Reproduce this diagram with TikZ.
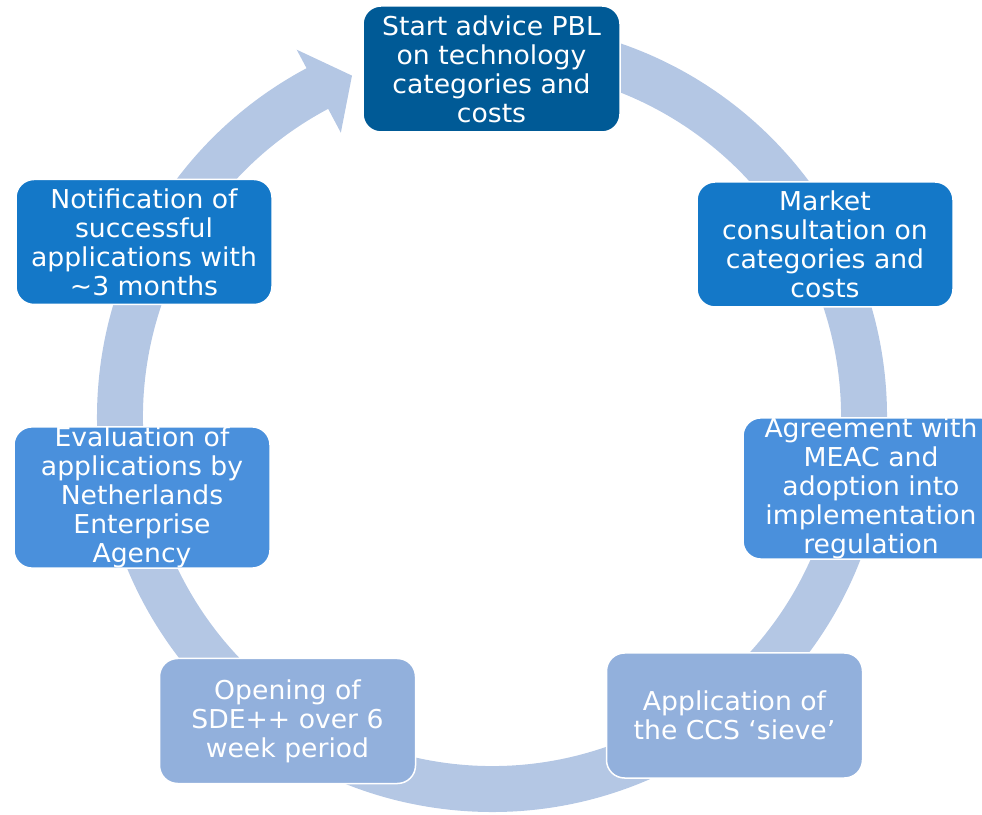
\documentclass[tikz,border=0pt]{standalone}
\usepackage{fontspec}
\setmainfont{DejaVu Sans}[FakeStretch=1.025]
\usetikzlibrary{calc}
\definecolor{ringc}{RGB}{180,199,228}
\definecolor{cA}{RGB}{0,90,150}
\definecolor{cB}{RGB}{20,120,200}
\definecolor{cC}{RGB}{74,144,220}
\definecolor{cD}{RGB}{146,176,220}
\begin{document}
\begin{tikzpicture}[x=1pt,y=1pt,
  box/.style={rounded corners=18pt, draw=white, line width=1.5pt,
    minimum width=256pt, minimum height=125pt, text=white, align=center,
    font=\fontsize{26}{29}\selectfont, inner sep=0pt}]
\useasboundingbox (0,0) rectangle (982,814);
\clip (0,0) rectangle (982,814);
\coordinate (c) at (492,397);
\fill[ringc] ($(c)+(85:395)$) arc[start angle=85,end angle=-242,radius=395]
  -- ($(c)+(-242:416)$) -- ($(c)+(-247.7:369)$) -- ($(c)+(-242:322)$)
  -- ($(c)+(-242:349)$) arc[start angle=-242,end angle=85,radius=349] -- cycle;
\node[box, fill=cA, minimum width=257pt, minimum height=126pt] (n1) at (491.5,745)
  {Start advice PBL\\on technology\\categories and\\costs};
\node[box, fill=cB] (n2) at (825,569.5)
  {Market\\consultation on\\categories and\\costs};
\node[box, fill=cC, minimum height=137pt] (n3) at (871,325.5)
  {Agreement with\\MEAC and\\adoption into\\implementation\\regulation};
\node[box, fill=cD] (n4) at (734.5,98.5)
  {Application of\\the CCS `sieve'};
\node[box, fill=cD] (n5) at (287.5,93)
  {Opening of\\SDE++ over 6\\week period};
\node[box, fill=cC, minimum height=141pt] (n6) at (142,316.5)
  {Evaluation of\\applications by\\Netherlands\\Enterprise\\Agency};
\node[box, fill=cB] (n7) at (144,572)
  {Notification of\\successful\\applications with\\\textasciitilde 3 months};
\end{tikzpicture}
\end{document}
